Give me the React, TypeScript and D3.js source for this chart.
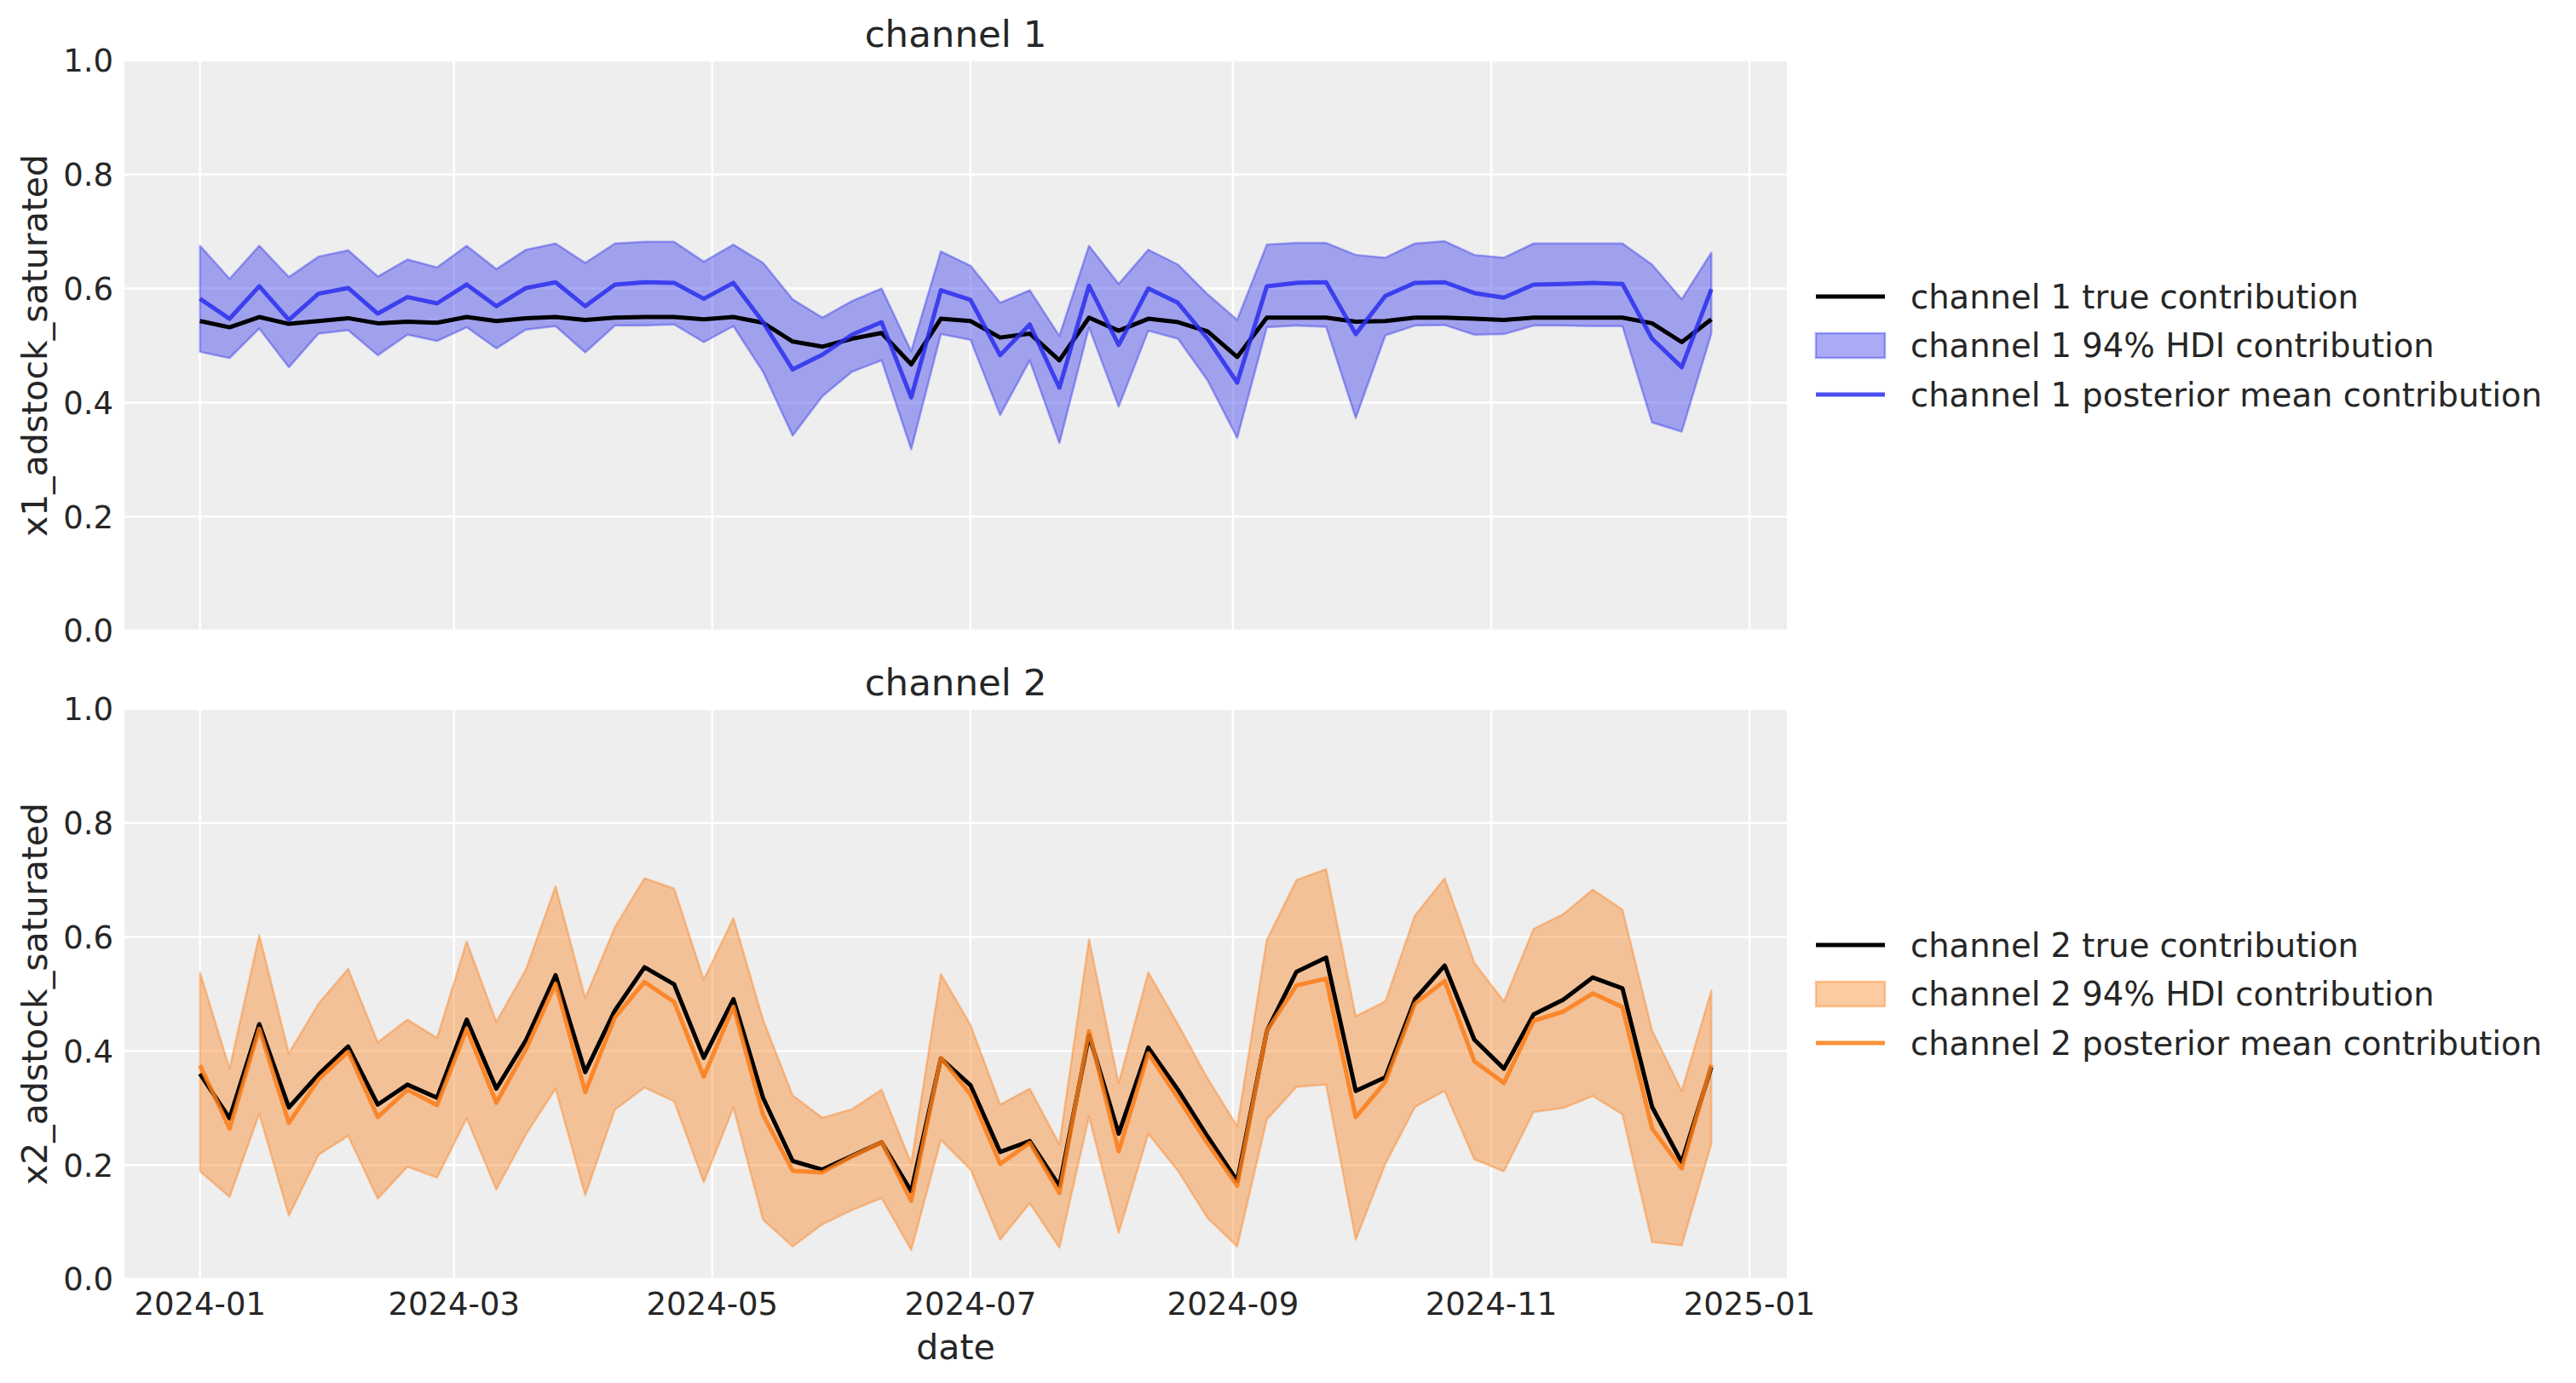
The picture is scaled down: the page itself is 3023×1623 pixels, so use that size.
import * as d3 from "d3";
import React from "react";

// weekly dates (Mondays) from 2024-01-01 to 2024-12-23
const dates: Date[] = d3.utcMonday.range(new Date(Date.UTC(2024, 0, 1)), new Date(Date.UTC(2024, 11, 24)));

const ch1True = [
  0.543, 0.532, 0.55, 0.538, 0.543, 0.548, 0.539, 0.542, 0.54, 0.55,
  0.543, 0.548, 0.55, 0.545, 0.549, 0.55, 0.55, 0.546, 0.55, 0.54,
  0.507, 0.498, 0.512, 0.522, 0.467, 0.547, 0.543, 0.514, 0.521, 0.474,
  0.549, 0.526, 0.547, 0.541, 0.525, 0.48, 0.549, 0.549, 0.549, 0.542,
  0.543, 0.549, 0.549, 0.547, 0.545, 0.549, 0.549, 0.549, 0.549, 0.539,
  0.506, 0.546,
];
const ch1Mean = [
  0.582, 0.547, 0.604, 0.545, 0.591, 0.601, 0.556, 0.585, 0.574, 0.607,
  0.569, 0.601, 0.611, 0.569, 0.607, 0.611, 0.61, 0.582, 0.61, 0.541,
  0.458, 0.484, 0.519, 0.541, 0.409, 0.597, 0.58, 0.483, 0.537, 0.426,
  0.605, 0.501, 0.6, 0.575, 0.512, 0.435, 0.604, 0.61, 0.611, 0.52,
  0.587, 0.61, 0.611, 0.592, 0.584, 0.607, 0.608, 0.61, 0.608, 0.512,
  0.462, 0.599,
];
const ch1Upper = [
  0.675, 0.617, 0.675, 0.62, 0.656, 0.667, 0.621, 0.651, 0.637, 0.675,
  0.634, 0.668, 0.679, 0.645, 0.679, 0.682, 0.682, 0.647, 0.677, 0.645,
  0.581, 0.549, 0.578, 0.6, 0.49, 0.665, 0.64, 0.575, 0.597, 0.517,
  0.675, 0.608, 0.668, 0.642, 0.59, 0.545, 0.677, 0.68, 0.68, 0.659,
  0.654, 0.679, 0.683, 0.659, 0.654, 0.679, 0.679, 0.679, 0.679, 0.642,
  0.581, 0.663,
];
const ch1Lower = [
  0.489, 0.478, 0.53, 0.462, 0.521, 0.527, 0.483, 0.519, 0.508, 0.532,
  0.495, 0.528, 0.534, 0.488, 0.535, 0.535, 0.537, 0.506, 0.534, 0.454,
  0.342, 0.411, 0.454, 0.474, 0.318, 0.52, 0.51, 0.378, 0.474, 0.329,
  0.532, 0.393, 0.526, 0.512, 0.439, 0.338, 0.532, 0.535, 0.533, 0.373,
  0.518, 0.535, 0.536, 0.519, 0.52, 0.535, 0.535, 0.534, 0.534, 0.365,
  0.349, 0.521,
];

const ch2True = [
  0.36, 0.282, 0.447, 0.301, 0.359, 0.408, 0.306, 0.341, 0.318, 0.455,
  0.334, 0.419, 0.533, 0.363, 0.471, 0.547, 0.517, 0.388, 0.491, 0.318,
  0.207, 0.192, 0.216, 0.24, 0.154, 0.387, 0.34, 0.223, 0.242, 0.163,
  0.428, 0.255, 0.406, 0.332, 0.25, 0.172, 0.435, 0.539, 0.564, 0.33,
  0.354, 0.491, 0.55, 0.42, 0.369, 0.464, 0.49, 0.529, 0.51, 0.302,
  0.205, 0.372,
];
const ch2Mean = [
  0.375, 0.264, 0.439, 0.274, 0.35, 0.399, 0.284, 0.332, 0.305, 0.439,
  0.309, 0.403, 0.518, 0.328, 0.459, 0.521, 0.486, 0.355, 0.478, 0.288,
  0.19, 0.187, 0.215, 0.24, 0.137, 0.388, 0.324, 0.202, 0.239, 0.151,
  0.435, 0.224, 0.396, 0.318, 0.238, 0.164, 0.435, 0.515, 0.527, 0.284,
  0.346, 0.483, 0.523, 0.382, 0.344, 0.453, 0.469, 0.501, 0.477, 0.264,
  0.194, 0.376,
];
const ch2Upper = [
  0.538, 0.369, 0.603, 0.396, 0.483, 0.544, 0.415, 0.455, 0.423, 0.592,
  0.451, 0.543, 0.689, 0.493, 0.617, 0.703, 0.685, 0.525, 0.633, 0.455,
  0.322, 0.283, 0.298, 0.332, 0.203, 0.535, 0.446, 0.306, 0.334, 0.236,
  0.596, 0.343, 0.538, 0.447, 0.352, 0.268, 0.595, 0.7, 0.719, 0.461,
  0.487, 0.638, 0.703, 0.555, 0.487, 0.614, 0.64, 0.683, 0.648, 0.436,
  0.33, 0.506,
];
const ch2Lower = [
  0.189, 0.144, 0.29, 0.111, 0.218, 0.251, 0.141, 0.197, 0.178, 0.282,
  0.157, 0.254, 0.334, 0.147, 0.297, 0.336, 0.312, 0.17, 0.301, 0.104,
  0.057, 0.096, 0.121, 0.142, 0.051, 0.244, 0.192, 0.069, 0.133, 0.055,
  0.285, 0.081, 0.255, 0.19, 0.107, 0.057, 0.28, 0.337, 0.341, 0.069,
  0.202, 0.302, 0.33, 0.21, 0.189, 0.293, 0.3, 0.321, 0.289, 0.065,
  0.059, 0.237,
];

const yTicks = [0, 0.2, 0.4, 0.6, 0.8, 1.0];
const xTickMonths = ["2024-01", "2024-03", "2024-05", "2024-07", "2024-09", "2024-11", "2025-01"];

const panels = [
  { title: "channel 1", ylabel: "x1_adstock_saturated", color: "#2a2eec", truth: ch1True, mean: ch1Mean, lower: ch1Lower, upper: ch1Upper },
  { title: "channel 2", ylabel: "x2_adstock_saturated", color: "#fa7c17", truth: ch2True, mean: ch2Mean, lower: ch2Lower, upper: ch2Upper },
];

const width = 3023;
const height = 1623;
const left = 146;
const right = 2097;
const panelTops = [71, 832];
const panelH = 669;
const font = "DejaVu Sans, sans-serif";
const textColor = "#262626";

export default function App() {
  const dayMs = 86400000;
  const pad = (dates[dates.length - 1].getTime() - dates[0].getTime()) * 0.05;
  const x = d3
    .scaleUtc()
    .domain([new Date(dates[0].getTime() - pad), new Date(dates[dates.length - 1].getTime() + pad)])
    .range([left, right]);
  const tickDates = xTickMonths.map((m) => d3.utcParse("%Y-%m")(m) as Date);
  void dayMs;

  return (
    <div style={{ position: "absolute", left: 0, top: 0 }}>
      <svg width={width} height={height} style={{ display: "block", background: "#fff" }} fontFamily={font}>
        {panels.map((p, pi) => {
          const top = panelTops[pi];
          const y = d3.scaleLinear().domain([0, 1]).range([top + panelH, top]);
          const area = d3
            .area<number>()
            .x((_, i) => x(dates[i]))
            .y0((_, i) => y(p.lower[i]))
            .y1((d) => y(d));
          const line = d3
            .line<number>()
            .x((_, i) => x(dates[i]))
            .y((d) => y(d));
          const midY = top + panelH / 2;
          const legendRows = [
            { label: `${p.title} true contribution`, kind: "true" },
            { label: `${p.title} 94% HDI contribution`, kind: "hdi" },
            { label: `${p.title} posterior mean contribution`, kind: "mean" },
          ];
          return (
            <g key={p.title}>
              <rect x={left} y={top} width={right - left} height={panelH} fill="#eeeeee" />
              {/* grid */}
              {yTicks.map((t) => (
                <line key={"gy" + t} x1={left} x2={right} y1={y(t)} y2={y(t)} stroke="#fff" strokeWidth={2.5} />
              ))}
              {tickDates.map((d, i) => (
                <line key={"gx" + i} x1={x(d)} x2={x(d)} y1={top} y2={top + panelH} stroke="#fff" strokeWidth={2.5} />
              ))}
              {/* HDI band */}
              <path
                d={area(p.upper) ?? ""}
                fill={p.color}
                fillOpacity={0.4}
                stroke={p.color}
                strokeOpacity={0.4}
                strokeWidth={2.5}
                strokeLinejoin="round"
              />
              <path d={line(p.truth) ?? ""} fill="none" stroke="#000" strokeWidth={5} strokeLinejoin="round" />
              <path
                d={line(p.mean) ?? ""}
                fill="none"
                stroke={p.color}
                strokeOpacity={0.85}
                strokeWidth={5}
                strokeLinejoin="round"
              />
              {/* y ticks */}
              {yTicks.map((t) => (
                <text
                  key={"ty" + t}
                  x={133}
                  y={y(t)}
                  dy="0.36em"
                  textAnchor="end"
                  fontSize={37}
                  fill={textColor}
                >
                  {t.toFixed(1)}
                </text>
              ))}
              {/* x ticks on bottom panel */}
              {pi === panels.length - 1 &&
                tickDates.map((d, i) => (
                  <text key={"tx" + i} x={x(d)} y={1543} textAnchor="middle" fontSize={37} fill={textColor}>
                    {xTickMonths[i]}
                  </text>
                ))}
              <text x={(left + right) / 2} y={top - 16} textAnchor="middle" fontSize={43.5} fill={textColor}>
                {p.title}
              </text>
              <text
                transform={`translate(55,${midY}) rotate(-90)`}
                textAnchor="middle"
                fontSize={41}
                fill={textColor}
              >
                {p.ylabel}
              </text>
              {/* legend */}
              {legendRows.map((r, ri) => {
                const cy = midY - 57.5 + ri * 57.5;
                return (
                  <g key={r.kind}>
                    {r.kind === "hdi" ? (
                      <rect
                        x={2131}
                        y={cy - 14.5}
                        width={81}
                        height={29}
                        fill={p.color}
                        fillOpacity={0.4}
                        stroke={p.color}
                        strokeOpacity={0.4}
                        strokeWidth={2.5}
                      />
                    ) : (
                      <line
                        x1={2131}
                        x2={2212}
                        y1={cy}
                        y2={cy}
                        stroke={r.kind === "true" ? "#000" : p.color}
                        strokeOpacity={r.kind === "true" ? 1 : 0.85}
                        strokeWidth={5}
                      />
                    )}
                    <text x={2242} y={cy} dy="0.36em" fontSize={38.5} fill={textColor}>
                      {r.label}
                    </text>
                  </g>
                );
              })}
            </g>
          );
        })}
        <text x={(left + right) / 2} y={1595} textAnchor="middle" fontSize={41} fill={textColor}>
          date
        </text>
      </svg>
    </div>
  );
}
